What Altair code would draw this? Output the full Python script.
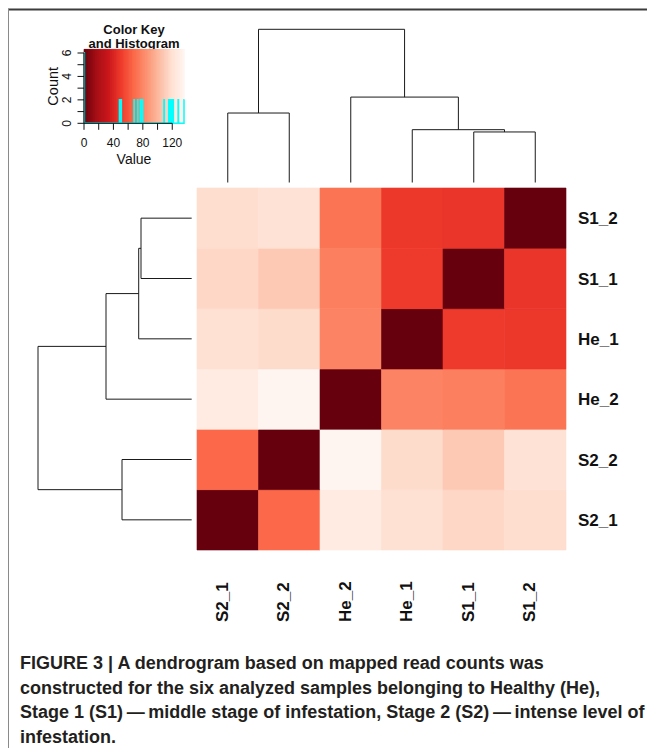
import altair as alt
import numpy as np
import pandas as pd

# ---------------- data ----------------
# display order: columns left->right, rows bottom->top
samples = ["S2_1", "S2_2", "He_2", "He_1", "S1_1", "S1_2"]

# pairwise distance matrix (rows/cols in the order of `samples`)
d_S2_1 = [0.0, 68.0, 128.0, 120.0, 115.5, 118.5]
d_S2_2 = [68.0, 0.0, 136.5, 117.5, 109.0, 121.0]
d_He_2 = [128.0, 136.5, 0.0, 79.5, 77.0, 73.0]
d_He_1 = [120.0, 117.5, 79.5, 0.0, 50.8, 49.7]
d_S1_1 = [115.5, 109.0, 77.0, 50.8, 0.0, 48.5]
d_S1_2 = [118.5, 121.0, 73.0, 49.7, 48.5, 0.0]
matrix_rows = [d_S2_1, d_S2_2, d_He_2, d_He_1, d_S1_1, d_S1_2]

# dendrogram (hclust style: negative = leaf position (1-based), positive = earlier merge)
merge_left = [-5, -4, -3, -1, 4]
merge_right = [-6, 1, 2, -2, 3]
merge_height = [50.7, 53.0, 85.7, 69.7, 153.7]

# colour ramp (RColorBrewer Reds, reversed)
ramp_colors = ["#67000d", "#a50f15", "#cb181d", "#ef3b2c", "#fb6a4a",
               "#fc9272", "#fcbba1", "#fee0d2", "#fff5f0"]

key_x_ticks = [0, 20, 40, 60, 80, 100, 120]
key_x_labels = [0, 40, 80, 120]
key_y_ticks = [0, 1, 2, 3, 4, 5, 6]
key_y_labels = [0, 2, 4, 6]

title_lines = ["Color Key", "and Histogram"]
caption_lines = [
    "FIGURE 3 | A dendrogram based on mapped read counts was",
    "constructed for the six analyzed samples belonging to Healthy (He),",
    "Stage 1 (S1)\u2009\u2014\u2009middle stage of infestation, Stage 2 (S2)\u2009\u2014\u2009intense level of",
    "infestation.",
]

# ---------------- derived tables ----------------
n = len(samples)
vmax = max(max(r) for r in matrix_rows)
all_vals = [v for r in matrix_rows for v in r]

heat_df = pd.DataFrame([
    {"c0": c, "c1": c + 1, "r0": r, "r1": r + 1, "v": matrix_rows[r][c],
     "row": samples[r], "col": samples[c]}
    for r in range(n) for c in range(n)
])

mpos = []
segs = []
def node(ref):
    if ref < 0:
        return (-ref - 1) + 0.5, 0.0
    return mpos[ref - 1], merge_height[ref - 1]
for l, r, h in zip(merge_left, merge_right, merge_height):
    pl, hl = node(l)
    pr, hr = node(r)
    segs.append({"p1": pl, "p2": pr, "h1": h, "h2": h})
    segs.append({"p1": pl, "p2": pl, "h1": hl, "h2": h})
    segs.append({"p1": pr, "p2": pr, "h1": hr, "h2": h})
    mpos.append((pl + pr) / 2)
seg_df = pd.DataFrame(segs)
hmax = max(merge_height)

breaks = np.linspace(0, vmax, 256)
counts, _ = np.histogram(all_vals, bins=breaks)
hist_df = pd.DataFrame({"x": breaks, "y": list(counts) + [counts[-1]]})
ymax_key = counts.max() / 0.95
grad_df = pd.DataFrame({"x0": breaks[:-1], "x1": breaks[1:],
                        "v": (breaks[:-1] + breaks[1:]) / 2})

lab_df = pd.DataFrame({"name": samples, "p": [i + 0.5 for i in range(n)]})

# ---------------- layout (chart px) ----------------
HEAT_X = [189, 558]
HEAT_Y = [542, 180]
COLD_Y = [174.5, 21.3]
ROWD_X = [183.7, 30]
KEY_X = [76, 176.4]
KEY_Y = [115.3, 41.3]
FONT = "Liberation Sans"
W, H = 639, 740


def S(domain, rng):
    return alt.Scale(domain=domain, range=rng, nice=False, zero=False)


ramp_domain = [vmax * i / (len(ramp_colors) - 1) for i in range(len(ramp_colors))]
color_scale = alt.Scale(domain=ramp_domain, range=ramp_colors, interpolate="rgb")

heat = alt.Chart(heat_df).mark_rect(strokeWidth=0.6).encode(
    x=alt.X("c0:Q", scale=S([0, n], HEAT_X), axis=None), x2="c1:Q",
    y=alt.Y("r0:Q", scale=S([0, n], HEAT_Y), axis=None), y2="r1:Q",
    color=alt.Color("v:Q", scale=color_scale, legend=None),
    stroke=alt.Stroke("v:Q", scale=color_scale, legend=None),
)

col_dend = alt.Chart(seg_df).mark_rule(color="#1a1a1a", strokeWidth=1).encode(
    x=alt.X("p1:Q", scale=S([0, n], HEAT_X), axis=None), x2="p2:Q",
    y=alt.Y("h1:Q", scale=S([0, hmax], COLD_Y), axis=None), y2="h2:Q",
)

row_dend = alt.Chart(seg_df).mark_rule(color="#1a1a1a", strokeWidth=1).encode(
    y=alt.Y("p1:Q", scale=S([0, n], HEAT_Y), axis=None), y2="p2:Q",
    x=alt.X("h1:Q", scale=S([0, hmax], ROWD_X), axis=None), x2="h2:Q",
)

row_labels = alt.Chart(lab_df).mark_text(
    font=FONT, fontSize=17, fontWeight="bold", align="left", baseline="alphabetic",
    dy=6, color="#111"
).encode(
    x=alt.value(570),
    y=alt.Y("p:Q", scale=S([0, n], HEAT_Y), axis=None),
    text="name:N",
)

col_labels = alt.Chart(lab_df).mark_text(
    font=FONT, fontSize=17, fontWeight="bold", align="left", baseline="alphabetic",
    angle=270, color="#111"
).encode(
    x=alt.X("p:Q", scale=S([0, n], HEAT_X), axis=None),
    y=alt.value(614),
    text="name:N",
)

# color key
key_title = alt.Chart(pd.DataFrame({"t": title_lines, "i": [0, 1]})).mark_text(
    font=FONT, fontSize=13, fontWeight="bold", align="center", baseline="alphabetic", color="#111"
).encode(
    x=alt.value(126),
    y=alt.Y("i:Q", scale=S([0, 1], [25.5, 40]), axis=None),
    text="t:N",
)

key_grad = alt.Chart(grad_df).mark_rect(strokeWidth=0.5).encode(
    x=alt.X("x0:Q", scale=S([0, vmax], KEY_X), axis=None), x2="x1:Q",
    y=alt.value(KEY_Y[1]), y2=alt.value(KEY_Y[0]),
    color=alt.Color("v:Q", scale=color_scale, legend=None),
    stroke=alt.Stroke("v:Q", scale=color_scale, legend=None),
)

key_hist = alt.Chart(hist_df).mark_line(
    interpolate="step-after", color="#00ffff", strokeWidth=1.5
).encode(
    x=alt.X("x:Q", scale=S([0, vmax], KEY_X), axis=None),
    y=alt.Y("y:Q", scale=S([0, ymax_key], KEY_Y), axis=None),
)

kx = pd.DataFrame({"t": key_x_ticks})
key_xaxis_line = alt.Chart(pd.DataFrame({"a": [key_x_ticks[0]], "b": [key_x_ticks[-1]]})).mark_rule(
    color="#111", strokeWidth=1).encode(
    x=alt.X("a:Q", scale=S([0, vmax], KEY_X), axis=None), x2="b:Q",
    y=alt.value(KEY_Y[0]),
)
key_xticks = alt.Chart(kx).mark_rule(color="#111", strokeWidth=1).encode(
    x=alt.X("t:Q", scale=S([0, vmax], KEY_X), axis=None),
    y=alt.value(KEY_Y[0]), y2=alt.value(KEY_Y[0] + 6.5),
)
key_xlabels = alt.Chart(pd.DataFrame({"t": key_x_labels})).mark_text(
    font=FONT, fontSize=12, align="center", baseline="alphabetic", color="#111"
).encode(
    x=alt.X("t:Q", scale=S([0, vmax], KEY_X), axis=None),
    y=alt.value(139.3),
    text="t:N",
)
key_xtitle = alt.Chart(pd.DataFrame({"t": ["Value"]})).mark_text(
    font=FONT, fontSize=14, align="center", baseline="alphabetic", color="#111"
).encode(x=alt.value(126), y=alt.value(156), text="t:N")

key_yaxis_line = alt.Chart(pd.DataFrame({"a": [key_y_ticks[0]], "b": [key_y_ticks[-1]]})).mark_rule(
    color="#111", strokeWidth=1).encode(
    y=alt.Y("a:Q", scale=S([0, ymax_key], KEY_Y), axis=None), y2="b:Q",
    x=alt.value(KEY_X[0]),
)
key_yticks = alt.Chart(pd.DataFrame({"t": key_y_ticks})).mark_rule(color="#111", strokeWidth=1).encode(
    y=alt.Y("t:Q", scale=S([0, ymax_key], KEY_Y), axis=None),
    x=alt.value(KEY_X[0]), x2=alt.value(KEY_X[0] - 6.5),
)
key_ylabels = alt.Chart(pd.DataFrame({"t": key_y_labels})).mark_text(
    font=FONT, fontSize=12, align="center", baseline="alphabetic", angle=270, color="#111"
).encode(
    y=alt.Y("t:Q", scale=S([0, ymax_key], KEY_Y), axis=None),
    x=alt.value(62.7),
    text="t:N",
)
key_ytitle = alt.Chart(pd.DataFrame({"t": ["Count"]})).mark_text(
    font=FONT, fontSize=14.5, align="center", baseline="alphabetic", angle=270, color="#111"
).encode(x=alt.value(50.3), y=alt.value((KEY_Y[0] + KEY_Y[1]) / 2), text="t:N")

caption = alt.Chart(pd.DataFrame({"t": caption_lines, "i": list(range(len(caption_lines)))})).mark_text(
    font=FONT, fontSize=18, fontWeight="bold", align="left", baseline="middle", color="#231f20"
).encode(
    x=alt.value(12),
    y=alt.Y("i:Q", scale=S([0, 3], [656, 729.5]), axis=None),
    text="t:N",
)

frame_top = alt.Chart(pd.DataFrame({"a": [0]})).mark_rule(color="#3c3c3c", strokeWidth=2).encode(
    x=alt.value(0), x2=alt.value(W), y=alt.value(1.5))
frame_left = alt.Chart(pd.DataFrame({"a": [0]})).mark_rule(color="#8a8a8a", strokeWidth=2).encode(
    x=alt.value(0), y=alt.value(1), y2=alt.value(H))

chart = alt.layer(
    frame_top, frame_left,
    key_title, key_grad, key_hist,
    key_xaxis_line, key_xticks, key_xlabels, key_xtitle,
    key_yaxis_line, key_yticks, key_ylabels, key_ytitle,
    col_dend, row_dend, heat, row_labels, col_labels, caption,
).resolve_scale(
    x="independent", y="independent", color="independent", stroke="independent"
).properties(
    width=W, height=H, autosize=alt.AutoSizeParams(type="none"), padding=0,
    background="white",
).configure_view(stroke=None)

chart.save("out.html", embed_options={"renderer": "svg", "actions": False})
